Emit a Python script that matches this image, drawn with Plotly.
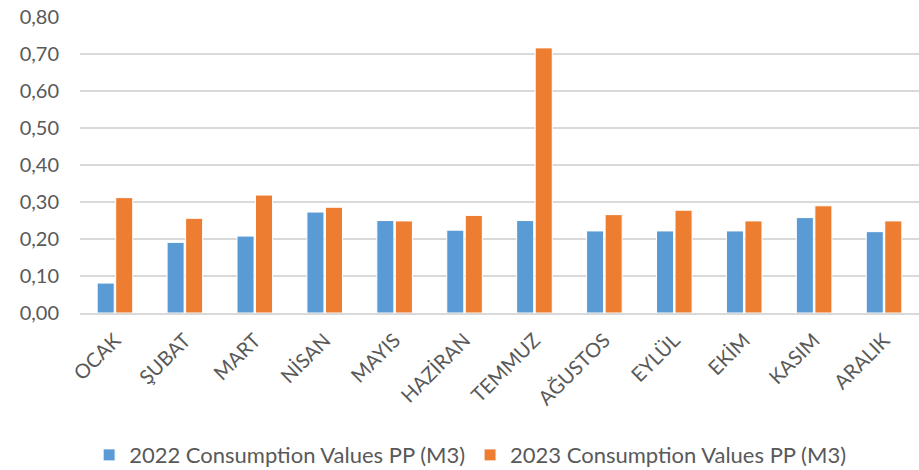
import plotly.graph_objects as go

months = ["OCAK", "ŞUBAT", "MART", "NİSAN", "MAYIS", "HAZİRAN", "TEMMUZ",
          "AĞUSTOS", "EYLÜL", "EKİM", "KASIM", "ARALIK"]
values_2022 = [0.081, 0.191, 0.208, 0.273, 0.250, 0.224, 0.250, 0.222, 0.222, 0.222, 0.258, 0.220]
values_2023 = [0.312, 0.256, 0.319, 0.286, 0.249, 0.264, 0.717, 0.266, 0.278, 0.249, 0.290, 0.249]
name_2022 = "2022 Consumption Values PP (M3)"
name_2023 = "2023 Consumption Values PP (M3)"
y_ticks = [0, 0.1, 0.2, 0.3, 0.4, 0.5, 0.6, 0.7, 0.8]
y_tick_labels = ["0,00", "0,10", "0,20", "0,30", "0,40", "0,50", "0,60", "0,70", "0,80"]

FONT = "Lato, 'Open Sans', sans-serif"
TXT = "#595959"

fig = go.Figure()
fig.add_trace(go.Bar(x=months, y=values_2022, name=name_2022,
                     marker=dict(color="#5B9BD5", line=dict(color="white", width=1))))
fig.add_trace(go.Bar(x=months, y=values_2023, name=name_2023,
                     marker=dict(color="#ED7D31", line=dict(color="white", width=1))))

fig.update_layout(
    width=919, height=470,
    margin=dict(l=80, r=0, t=17, b=157, autoexpand=False),
    paper_bgcolor="white", plot_bgcolor="white",
    barmode="group", bargap=0.47, bargroupgap=0.08,
    font=dict(family=FONT, color=TXT, size=18),
    showlegend=True,
    legend=dict(orientation="h", x=0.465, xanchor="center",
                y=-0.48, yanchor="middle", font=dict(size=22, color=TXT),
                itemwidth=30, traceorder="normal"),
    xaxis=dict(tickangle=-45, showgrid=False, showline=True, linecolor="#D9D9D9",
               linewidth=1.5, ticks="", automargin=False, ticklabelstandoff=6,
               tickfont=dict(size=20, color=TXT)),
    yaxis=dict(range=[0, 0.8005], tickvals=y_ticks, ticktext=y_tick_labels,
               showgrid=True, gridcolor="#D9D9D9", gridwidth=1.5, zeroline=False,
               showline=False, ticks="", ticklabelstandoff=20, automargin=False,
               ticklabeloverflow="allow",
               tickfont=dict(size=20, color=TXT)),
)

fig.write_html("out.html", config={"displayModeBar": False},
               post_script="document.body.style.margin='0';document.body.style.overflow='hidden';")
